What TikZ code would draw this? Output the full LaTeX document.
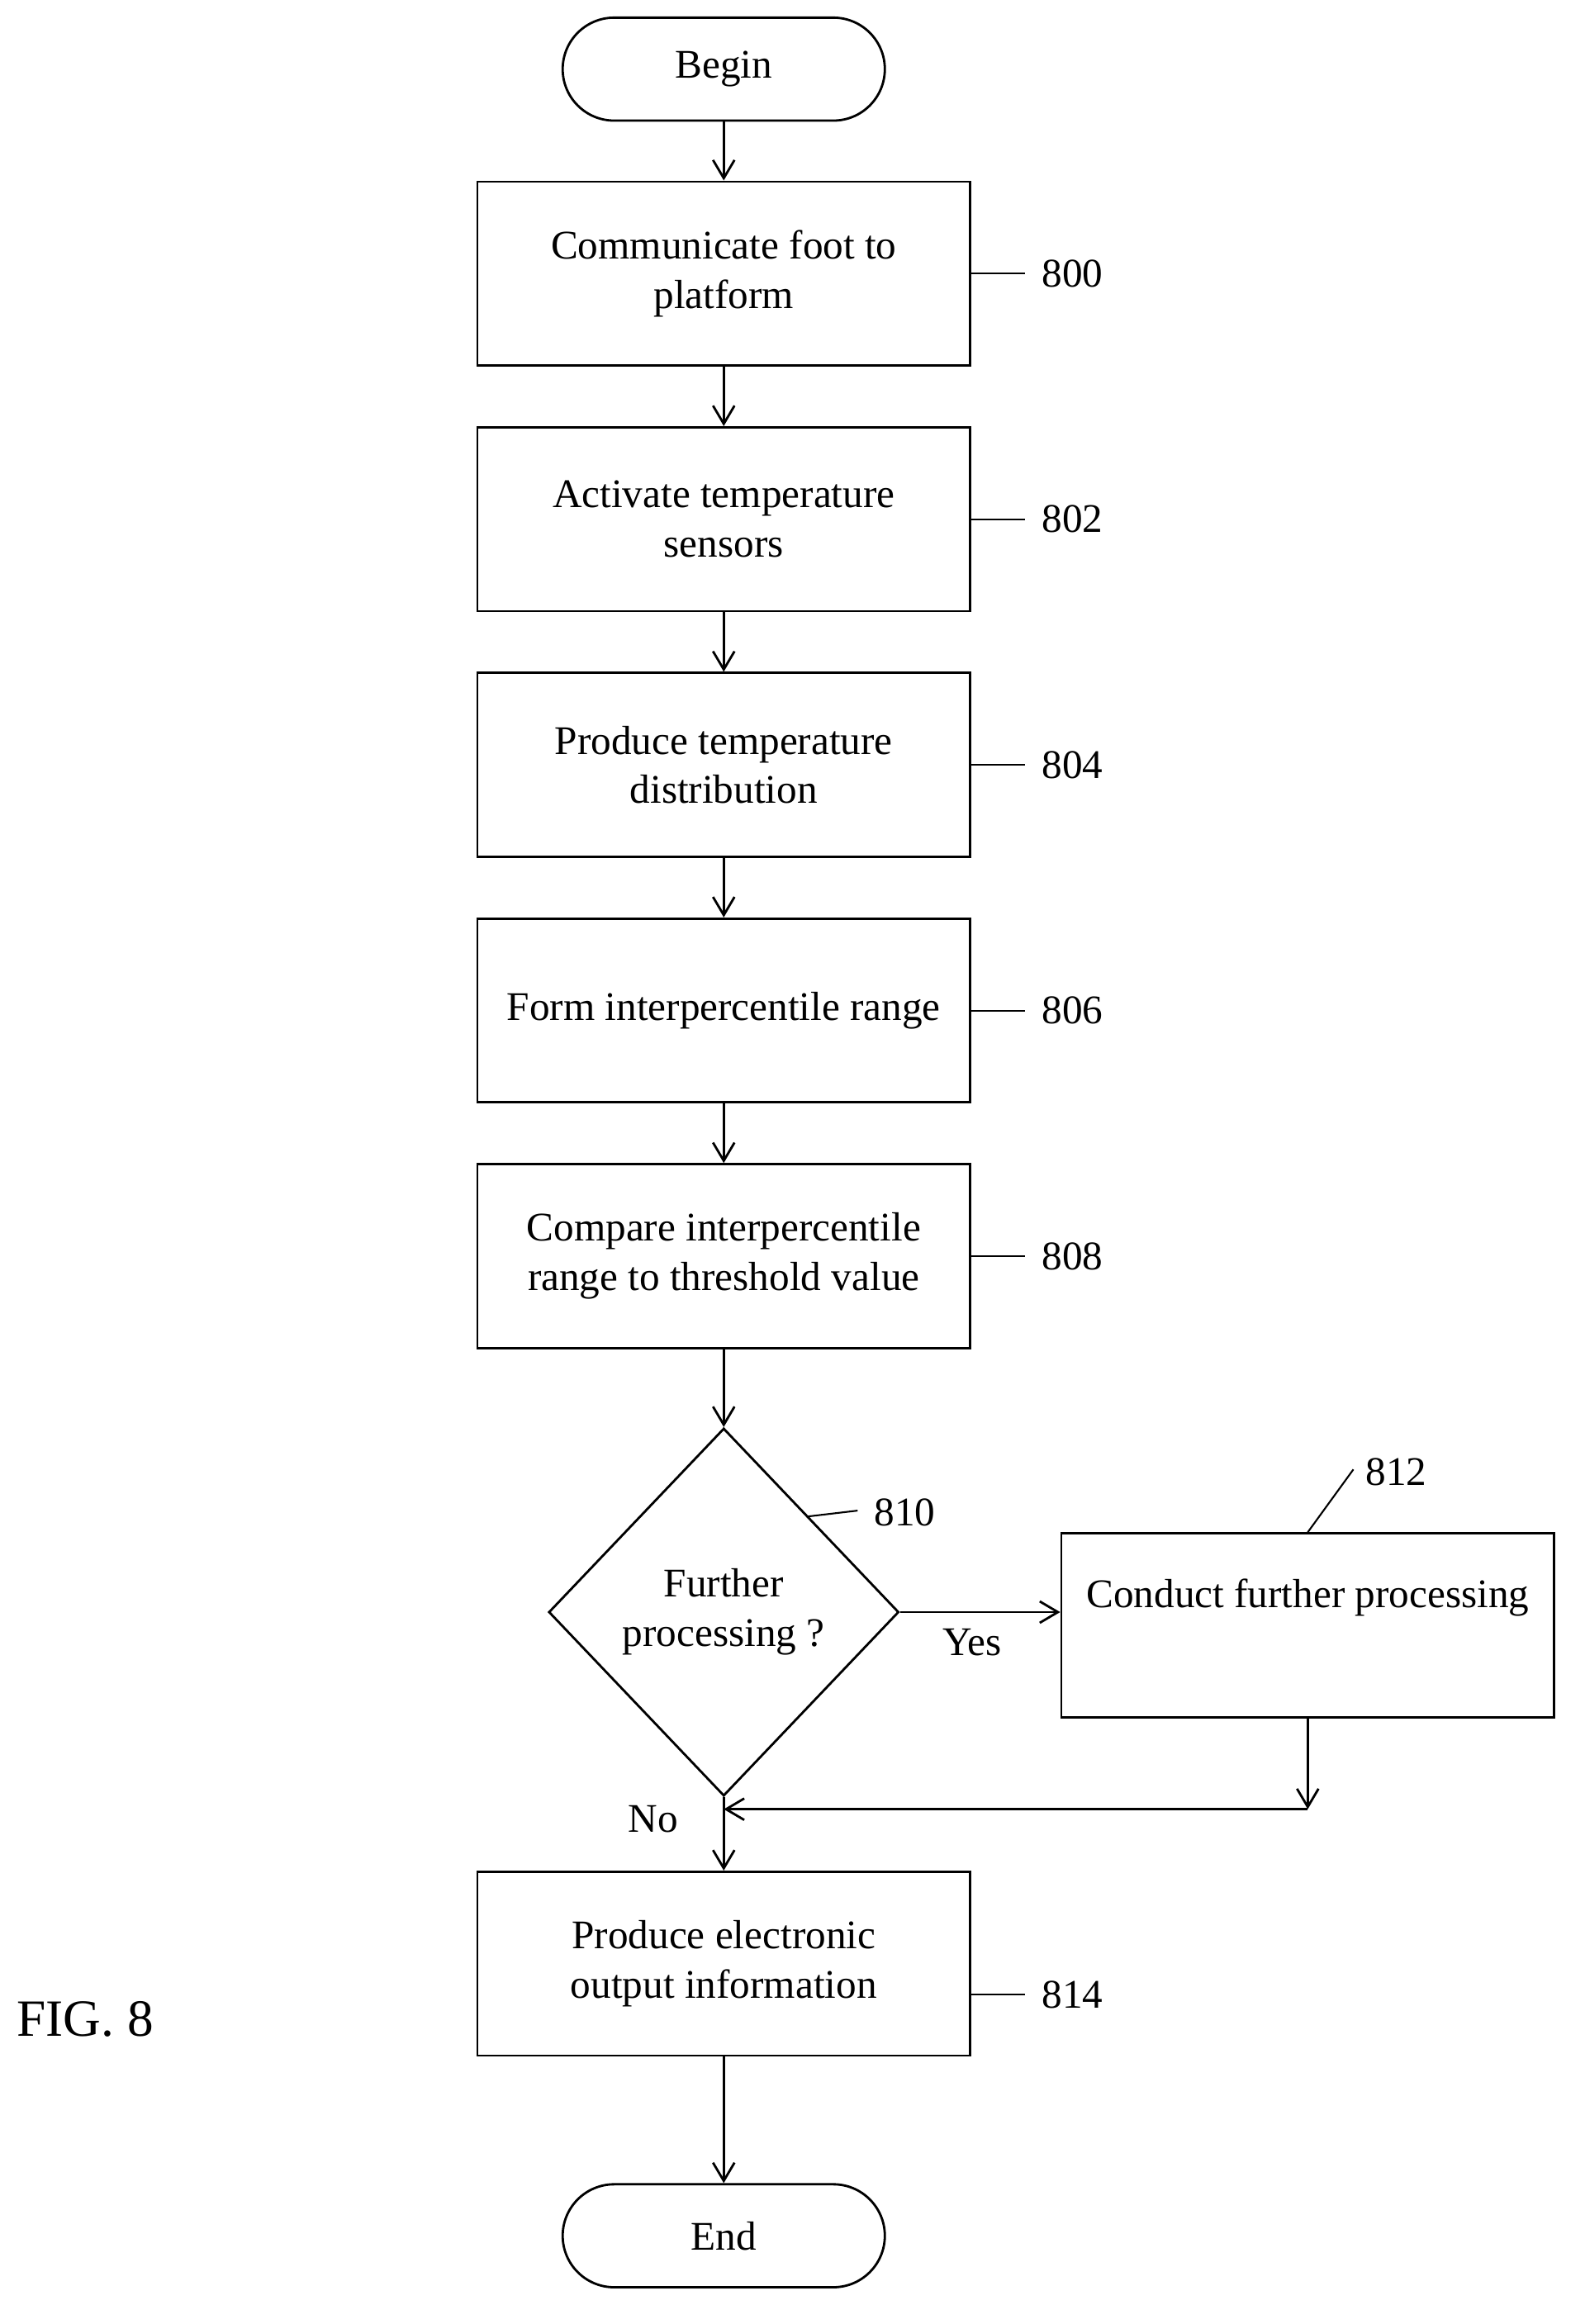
\documentclass[tikz,border=0pt]{standalone}
\usepackage{fontspec}
\setmainfont{Liberation Serif}
\usetikzlibrary{shapes.geometric,arrows.meta}

\tikzset{
  box/.style={draw, line width=0.8pt, minimum width=335*0.178mm, minimum height=125*0.178mm, align=center, inner sep=0pt},
  term/.style={draw, line width=0.8pt, rounded corners=35*0.178mm, minimum width=219*0.178mm, minimum height=70*0.178mm},
  decide/.style={draw, line width=0.8pt, diamond, aspect=0.952, minimum width=238*0.178mm, minimum height=250*0.178mm, align=center, inner sep=0pt},
  flow/.style={line width=0.8pt, -{Straight Barb[length=2.2mm, width=2.6mm]}},
  tag/.style={line width=0.6pt}
}

\begin{document}
\begin{tikzpicture}[x=0.178mm, y=-0.178mm, font=\fontsize{14}{17}\selectfont]
    \useasboundingbox (0,0) rectangle (1077,1580);

    % Terminals and steps
    \node[term] (begin) at (492,47) {Begin};
    \node[box] (s800) at (492,186) {Communicate foot to\\platform};
    \node[box] (s802) at (492,353) {Activate temperature\\sensors};
    \node[box] (s804) at (492,520) {Produce temperature\\distribution};
    \node[box] (s806) at (492,687) {Form interpercentile range};
    \node[box] (s808) at (492,854) {Compare interpercentile\\range to threshold value};
    \node[decide] (d810) at (492,1096) {Further\\processing ?};
    \node[box] (s812) at (889,1105) {Conduct further processing\\\strut};
    \node[box] (s814) at (492,1335) {Produce electronic\\output information};
    \node[term] (end) at (492,1520) {End};

    % Reference numerals
    \foreach \n/\y in {800/186, 802/353, 804/520, 806/687, 808/854, 814/1356} {
        \coordinate (t\n) at (697,\y);
        \draw[tag] (660,\y) -- (t\n);
        \node[anchor=west, inner sep=0pt] (n\n) at (708,\y) {\n};
    }
    \coordinate (t810) at (583,1027);
    \draw[tag] (549,1031) -- (t810);
    \node[anchor=west, inner sep=0pt] (n810) at (594,1028) {810};
    \coordinate (t812) at (920,999);
    \draw[tag] (s812.north) -- (t812);
    \node[anchor=west, inner sep=0pt] (n812) at (928,1001) {812};

    % Main flow
    \draw[flow] (begin) -- (s800);
    \draw[flow] (s800) -- (s802);
    \draw[flow] (s802) -- (s804);
    \draw[flow] (s804) -- (s806);
    \draw[flow] (s806) -- (s808);
    \draw[flow] (s808) -- (d810);
    \draw[flow] (d810) -- node[below, pos=0.45, yshift=-2pt] (yes) {Yes} (s812.west |- d810);
    \draw[flow] (d810) -- node[left, pos=0.3, xshift=-12pt] (no) {No} (s814);
    \draw[flow] (s814) -- (end);

    % Return from further processing
    \coordinate (ret) at (889,1230);
    \coordinate (join) at (492,1230);
    \draw[flow] (s812) -- (ret);
    \draw[flow] (ret) -- (join);

    \node[font=\fontsize{18}{20}\selectfont] (fig) at (58,1373) {FIG. 8};
\end{tikzpicture}
\end{document}
